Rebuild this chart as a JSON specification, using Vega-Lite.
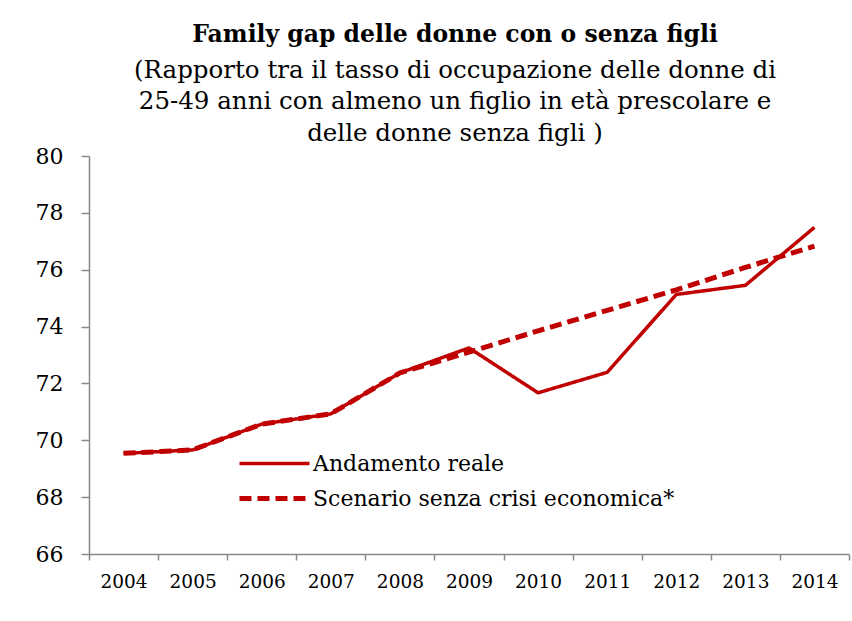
{
  "$schema": "https://vega.github.io/schema/vega-lite/v6.json",
  "width": 760,
  "height": 398,
  "autosize": "none",
  "padding": {"left": 89, "top": 156, "right": 3, "bottom": 67},
  "background": "white",
  "config": {
    "view": {"stroke": null},
    "font": "DejaVu Serif"
  },
  "title": {
    "text": "Family gap delle donne con o senza figli",
    "subtitle": ["(Rapporto tra il tasso di occupazione delle donne di", "25-49 anni con almeno un figlio in età prescolare e", "delle donne senza figli )"],
    "anchor": "middle",
    "dx": -14,
    "offset": 0,
    "font": "DejaVu Serif",
    "fontSize": 23.5,
    "fontWeight": "bold",
    "color": "#000000",
    "subtitleFont": "DejaVu Serif",
    "subtitleFontSize": 24.5,
    "subtitleColor": "#000000",
    "subtitleLineHeight": 31.5,
    "subtitlePadding": 12
  },
  "data": {
    "values": [
      {"anno": "2004", "serie": "Andamento reale", "valore": 69.54},
      {"anno": "2005", "serie": "Andamento reale", "valore": 69.66},
      {"anno": "2006", "serie": "Andamento reale", "valore": 70.57},
      {"anno": "2007", "serie": "Andamento reale", "valore": 70.93},
      {"anno": "2008", "serie": "Andamento reale", "valore": 72.37},
      {"anno": "2009", "serie": "Andamento reale", "valore": 73.25},
      {"anno": "2010", "serie": "Andamento reale", "valore": 71.67},
      {"anno": "2011", "serie": "Andamento reale", "valore": 72.39},
      {"anno": "2012", "serie": "Andamento reale", "valore": 75.13},
      {"anno": "2013", "serie": "Andamento reale", "valore": 75.45},
      {"anno": "2014", "serie": "Andamento reale", "valore": 77.49},
      {"anno": "2004", "serie": "Scenario senza crisi economica*", "valore": 69.54},
      {"anno": "2005", "serie": "Scenario senza crisi economica*", "valore": 69.66},
      {"anno": "2006", "serie": "Scenario senza crisi economica*", "valore": 70.57},
      {"anno": "2007", "serie": "Scenario senza crisi economica*", "valore": 70.93},
      {"anno": "2008", "serie": "Scenario senza crisi economica*", "valore": 72.37},
      {"anno": "2009", "serie": "Scenario senza crisi economica*", "valore": 73.1},
      {"anno": "2010", "serie": "Scenario senza crisi economica*", "valore": 73.85},
      {"anno": "2011", "serie": "Scenario senza crisi economica*", "valore": 74.57},
      {"anno": "2012", "serie": "Scenario senza crisi economica*", "valore": 75.29},
      {"anno": "2013", "serie": "Scenario senza crisi economica*", "valore": 76.08},
      {"anno": "2014", "serie": "Scenario senza crisi economica*", "valore": 76.83}
    ]
  },
  "mark": {"type": "line", "color": "#C00000", "strokeCap": "butt", "strokeJoin": "round"},
  "encoding": {
    "x": {
      "field": "anno",
      "type": "ordinal",
      "title": null,
      "scale": {"paddingInner": 0, "paddingOuter": 0},
      "axis": {
        "labelAngle": 0,
        "tickBand": "extent",
        "tickSize": 6,
        "tickColor": "#898989",
        "tickWidth": 1.5,
        "domainColor": "#898989",
        "domainWidth": 1.5,
        "labelFont": "DejaVu Serif",
        "labelFontSize": 18.5,
        "labelColor": "#000000",
        "labelPadding": 12,
        "grid": false
      }
    },
    "y": {
      "field": "valore",
      "type": "quantitative",
      "title": null,
      "scale": {"domain": [66, 80], "nice": false, "zero": false},
      "axis": {
        "values": [66, 68, 70, 72, 74, 76, 78, 80],
        "tickSize": 8,
        "tickColor": "#898989",
        "tickWidth": 1.5,
        "domainColor": "#898989",
        "domainWidth": 1.5,
        "labelFont": "DejaVu Serif",
        "labelFontSize": 22,
        "labelColor": "#000000",
        "labelPadding": 18,
        "grid": false
      }
    },
    "strokeDash": {
      "field": "serie",
      "type": "nominal",
      "title": null,
      "scale": {"domain": ["Andamento reale", "Scenario senza crisi economica*"], "range": [[1, 0], [12, 6]]},
      "legend": {
        "orient": "none",
        "legendX": 148,
        "legendY": 290,
        "symbolType": "stroke",
        "symbolSize": 4900,
        "symbolStrokeColor": "#C00000",
        "labelFont": "DejaVu Serif",
        "labelFontSize": 22,
        "labelColor": "#000000",
        "labelOffset": 1,
        "labelLimit": 0,
        "clipHeight": 35,
        "rowPadding": 0
      }
    },
    "strokeWidth": {
      "field": "serie",
      "type": "nominal",
      "title": null,
      "scale": {"domain": ["Andamento reale", "Scenario senza crisi economica*"], "range": [3.5, 5]}
    },
    "order": {"field": "serie", "sort": "descending"}
  }
}
